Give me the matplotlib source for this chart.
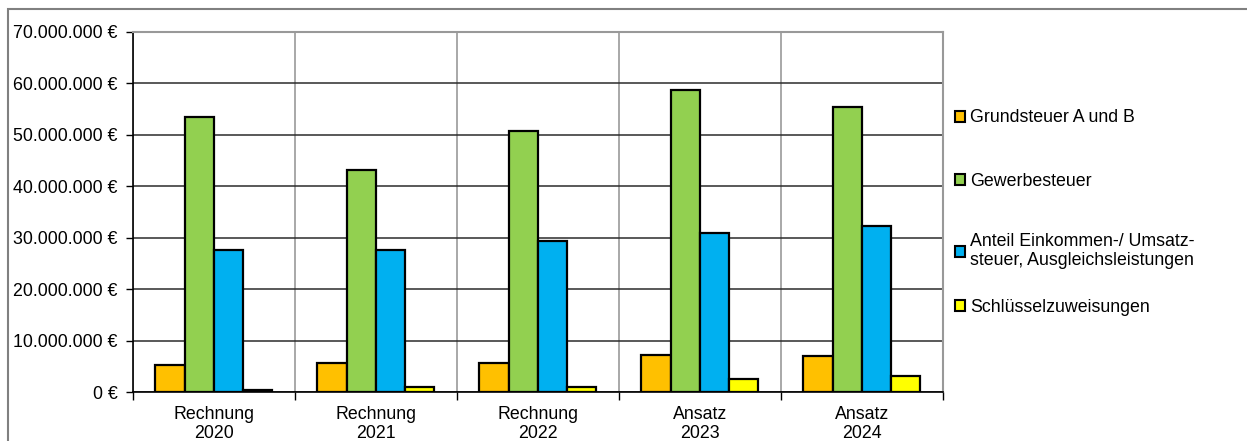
import matplotlib
matplotlib.use("Agg")
import matplotlib.pyplot as plt
import numpy as np
from matplotlib.patches import Rectangle, Patch
from matplotlib.ticker import FuncFormatter, FixedLocator

plt.rcParams['font.family'] = ['Liberation Sans', 'DejaVu Sans']

categories = ["Rechnung\n2020", "Rechnung\n2021", "Rechnung\n2022", "Ansatz\n2023", "Ansatz\n2024"]
series_names = ["Grundsteuer A und B", "Gewerbesteuer",
                "Anteil Einkommen-/ Umsatz-\nsteuer, Ausgleichsleistungen",
                "Schlüsselzuweisungen"]
grundsteuer = [5.4e6, 5.6e6, 5.7e6, 7.2e6, 7.1e6]
gewerbesteuer = [53.4e6, 43.2e6, 50.7e6, 58.7e6, 55.5e6]
anteil_est = [27.7e6, 27.6e6, 29.3e6, 31.0e6, 32.4e6]
schluessel = [0.5e6, 1.0e6, 1.1e6, 2.5e6, 3.1e6]
colors = ["#FFC000", "#92D050", "#00B0F0", "#FFFF00"]

FS = 12.8

fig = plt.figure(figsize=(12.47, 4.41), dpi=100)
# outer frame
fig.patches.append(Rectangle((8/1247, -0.1), 1.2, 1 - 9/441 + 0.1, transform=fig.transFigure,
                             fill=False, edgecolor="#808080", linewidth=1.5))

ax = fig.add_axes([132.7/1247, 1 - 392.3/441, (942.7-132.7)/1247, (392.3-32)/441])

x = np.arange(len(categories))
w = 0.18
data = [grundsteuer, gewerbesteuer, anteil_est, schluessel]
for i, (vals, c) in enumerate(zip(data, colors)):
    ax.bar(x + (i - 1.5) * w, vals, width=w, color=c, edgecolor="black", linewidth=1.6, zorder=3)

ax.set_xlim(-0.5, len(categories) - 0.5)
ax.set_ylim(0, 70e6)
ax.set_yticks(np.arange(0, 70e6 + 1, 10e6))
ax.yaxis.set_major_formatter(FuncFormatter(lambda v, p: f"{int(v):,} €".replace(",", ".")))
ax.set_xticks(x)
ax.set_xticklabels(categories, linespacing=1.15)
ax.xaxis.set_minor_locator(FixedLocator(np.arange(-0.5, len(categories), 1.0)))
ax.tick_params(axis='x', which='major', length=0, pad=10, labelsize=FS)
ax.tick_params(axis='x', which='minor', length=6, width=1, color="black")
ax.tick_params(axis='y', length=5, width=1, color="black", labelsize=FS, pad=6)

ax.grid(axis='y', color="#2b2b2b", linewidth=1.1, zorder=0)
ax.grid(axis='x', which='minor', color="#999999", linewidth=1.2, zorder=0)
ax.set_axisbelow(True)

ax.spines['left'].set_color("black")
ax.spines['left'].set_linewidth(1.2)
ax.spines['bottom'].set_color("black")
ax.spines['bottom'].set_linewidth(1.2)
ax.spines['top'].set_color("#999999")
ax.spines['top'].set_linewidth(1.5)
ax.spines['right'].set_color("#999999")
ax.spines['right'].set_linewidth(1.5)

# legend entries, one per series, at the reference positions
legend_y = [118, 181, 251, 307]
for name, c, yc in zip(series_names, colors, legend_y):
    h = Patch(facecolor=c, edgecolor="black", linewidth=1.5)
    fig.legend([h], [name], loc="center left",
               bbox_to_anchor=(955/1247, 1 - yc/441), frameon=False,
               fontsize=FS, handlelength=0.55, handleheight=0.55, handletextpad=0.3,
               borderaxespad=0, borderpad=0)

fig.savefig("out.png", dpi=100)
